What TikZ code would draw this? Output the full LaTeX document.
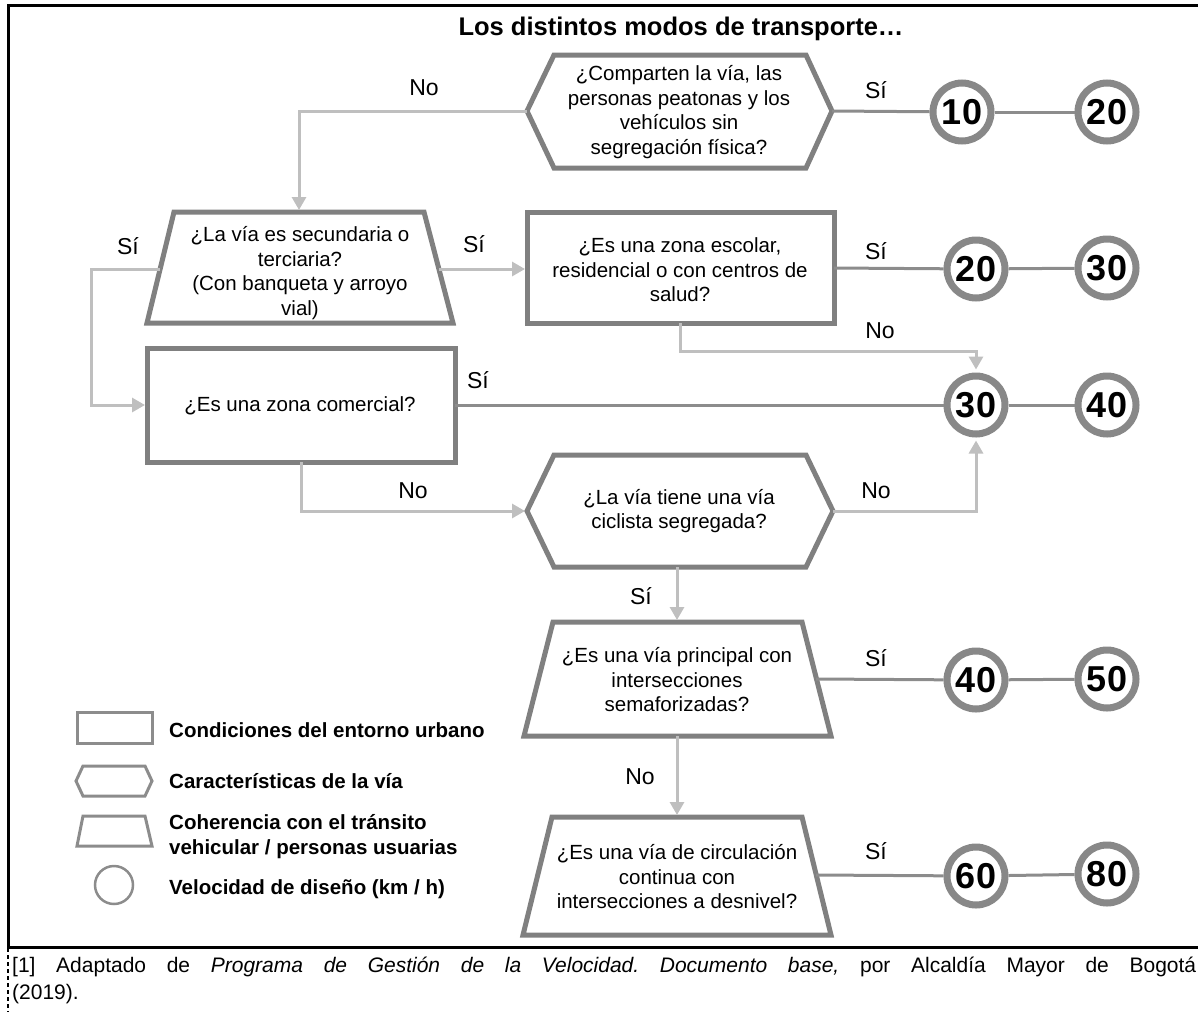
\documentclass[tikz,border=0pt]{standalone}
\usepackage{fontspec}
\setmainfont{Liberation Sans}
\usetikzlibrary{arrows.meta}
\frenchspacing
\definecolor{shapegray}{RGB}{128,128,128}
\definecolor{ringgray}{RGB}{136,136,136}
\definecolor{linkgray}{RGB}{140,140,140}
\definecolor{arrowgray}{RGB}{191,191,191}
\definecolor{leggray}{RGB}{140,140,140}
\tikzset{
 shapeline/.style={draw=shapegray, line width=5pt, line join=miter, fill=white},
 qtext/.style={align=center, font=\fontsize{20.5}{24.5}\selectfont, inner sep=0pt},
 speed/.style={circle, draw=ringgray, line width=7pt, fill=white, minimum size=58pt, inner sep=0pt, font=\fontsize{36}{36}\selectfont\bfseries},
 link/.style={draw=linkgray, line width=3pt},
 flow/.style={draw=arrowgray, line width=3pt, -{Triangle[length=13pt,width=14pt]}},
 lbl/.style={font=\fontsize{23}{23}\selectfont, inner sep=0pt},
 legshape/.style={draw=leggray, line width=3pt},
 legtext/.style={anchor=west, align=left, font=\fontsize{20.5}{25}\selectfont\bfseries, inner sep=0pt},
}
\begin{document}
\begin{tikzpicture}[x=1pt,y=-1pt]
\useasboundingbox (0,0) rectangle (1198,1012);
% frame
\draw[line width=3pt] (1198,5.5) -- (8,5.5) -- (8,947) -- (1198,947);
\draw[line width=1.5pt, dash pattern=on 4pt off 3pt] (8,948) -- (8,1012);
% title
\node[anchor=base, inner sep=0pt, font=\fontsize{25.5}{25.5}\selectfont\bfseries] (title) at (681,35) {Los distintos modos de transporte…};

% shapes
\draw[shapeline] (527,111) -- (554,55) -- (806,55) -- (832,111) -- (806,168) -- (554,168) -- cycle;
\draw[shapeline] (174,212) -- (424,212) -- (453,323) -- (147,323) -- cycle;
\draw[shapeline] (527,212) rectangle (834,323);
\draw[shapeline] (147,348) rectangle (455,462);
\draw[shapeline] (527,511) -- (554,455) -- (806,455) -- (833,511) -- (806,567) -- (554,567) -- cycle;
\draw[shapeline] (553,622) -- (802,622) -- (831,736) -- (524,736) -- cycle;
\draw[shapeline] (552,817) -- (802,817) -- (831,935) -- (523,935) -- cycle;

% anchor coordinates
\coordinate (q1w) at (527,111); \coordinate (q1e) at (832,111);
\coordinate (q2n) at (299,210); \coordinate (q2w) at (160,269); \coordinate (q2e) at (439,269);
\coordinate (q3w) at (525,269); \coordinate (q3e) at (834,268); \coordinate (q3s) at (680,323);
\coordinate (q4w) at (145,405); \coordinate (q4e) at (455,405); \coordinate (q4s) at (301,462);
\coordinate (q5w) at (525,511); \coordinate (q5e) at (833,511); \coordinate (q5s) at (677,567);
\coordinate (q6n) at (677,620); \coordinate (q6e) at (816,679); \coordinate (q6s) at (677,736);
\coordinate (q7n) at (677,815); \coordinate (q7e) at (816,875);

% texts
\node[qtext] (t1) at (679,112) {¿Comparten la vía, las\\personas peatonas y los\\vehículos sin\\segregación física?};
\node[qtext] (t2) at (300,273) {¿La vía es secundaria o\\terciaria?\\(Con banqueta y arroyo\\vial)};
\node[qtext] (t3) at (680,270) {¿Es una zona escolar,\\residencial o con centros de\\salud?};
\node[qtext] (t4) at (300,406) {¿Es una zona comercial?};
\node[qtext] (t5) at (679,511) {¿La vía tiene una vía\\ciclista segregada?};
\node[qtext] (t6) at (677,680) {¿Es una vía principal con\\intersecciones\\semaforizadas?};
\node[qtext] (t7) at (677,877) {¿Es una vía de circulación\\continua con\\intersecciones a desnivel?};

% speed circles
\node[speed] (c10) at (962,112) {10};
\node[speed] (c20a) at (1107,112) {20};
\node[speed] (c20b) at (976,269) {20};
\node[speed] (c30a) at (1107,268) {30};
\node[speed] (c30b) at (976,405) {30};
\node[speed] (c40a) at (1107,405) {40};
\node[speed] (c40b) at (976,680) {40};
\node[speed] (c50) at (1107,679) {50};
\node[speed] (c60) at (976,876) {60};
\node[speed] (c80) at (1107,874) {80};

% dark links
\draw[link] (q1e) -- (c10);
\draw[link] (c10) -- (c20a);
\draw[link] (q3e) -- (c20b);
\draw[link] (c20b) -- (c30a);
\draw[link] (q4e) -- (c30b);
\draw[link] (c30b) -- (c40a);
\draw[link] (q6e) -- (c40b);
\draw[link] (c40b) -- (c50);
\draw[link] (q7e) -- (c60);
\draw[link] (c60) -- (c80);

% flow arrows
\draw[flow] (q1w) -| (q2n);
\draw[flow] (q2e) -- (q3w);
\draw[flow] (q2w) -- ++(-69,0) |- (q4w);
\draw[flow, shorten >=3pt] (q3s) -- ++(0,28) -| (c30b.north);
\draw[flow] (q4s) |- (q5w);
\draw[flow, shorten >=3pt] (q5e) -| (c30b.south);
\draw[flow] (q5s) -- (q6n);
\draw[flow] (q6s) -- (q7n);

% labels
\node[lbl] (l1) at (424,88) {No};
\node[lbl] (l2) at (876,90) {Sí};
\node[lbl] (l3) at (128,246) {Sí};
\node[lbl] (l4) at (474,244) {Sí};
\node[lbl] (l5) at (876,251) {Sí};
\node[lbl] (l6) at (880,331) {No};
\node[lbl] (l7) at (478,380) {Sí};
\node[lbl] (l8) at (413,491) {No};
\node[lbl] (l9) at (876,491) {No};
\node[lbl] (l10) at (641,596) {Sí};
\node[lbl] (l11) at (876,658) {Sí};
\node[lbl] (l12) at (640,777) {No};
\node[lbl] (l13) at (876,851) {Sí};

% legend
\draw[legshape] (77,712) rectangle (152,743);
\draw[legshape] (76,781) -- (83,766) -- (145,766) -- (152,781) -- (145,796) -- (83,796) -- cycle;
\draw[legshape] (83,816) -- (145,816) -- (152,846) -- (77,846) -- cycle;
\draw[draw=leggray, line width=2.5pt] (114,885) circle (19);
\node[legtext] (g1) at (169,730) {Condiciones del entorno urbano};
\node[legtext] (g2) at (169,781) {Características de la vía};
\node[legtext] (g3) at (169,836.5) {Coherencia con el tránsito\\vehicular / personas usuarias};
\node[legtext] (g4) at (169,889) {Velocidad de diseño (km / h)};

% footer
\node[anchor=north west, text width=1184pt, align=justify, inner sep=0pt, font=\fontsize{21}{27}\selectfont] (foot) at (12,957) {[1] Adaptado de \textit{Programa de Gestión de la Velocidad. Documento base,} por Alcaldía Mayor de Bogotá\linebreak (2019).};
\end{tikzpicture}
\end{document}
